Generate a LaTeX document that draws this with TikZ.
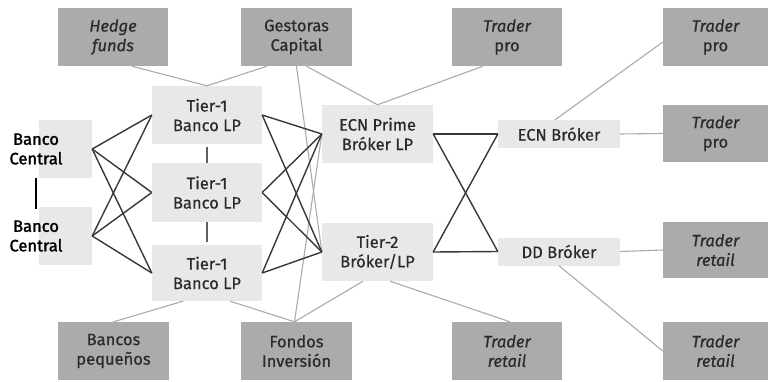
\documentclass[tikz,border=0pt]{standalone}
\usepackage{fontspec}
\setmainfont{Fira Sans}[FakeBold=0.5,AutoFakeBold=0]
\newfontfamily\bcfont{Fira Sans}[FakeBold=1.6]
\usetikzlibrary{calc}
\definecolor{darkbox}{HTML}{ABABAB}
\definecolor{lightbox}{HTML}{E8E8E8}
\definecolor{thinline}{HTML}{ABABAB}
\definecolor{boldline}{HTML}{383838}
\definecolor{txt}{HTML}{2A2A2A}
\tikzset{
  base/.style={inner sep=0pt, align=center, text=txt, font=\fontsize{16.5}{19.5}\selectfont},
  dbox/.style={base, fill=darkbox, minimum width=110pt, minimum height=58pt},
  lbox/.style={base, fill=lightbox, minimum width=110pt, minimum height=58pt},
  thin/.style={draw=thinline, line width=1.1pt},
  bold/.style={draw=boldline, line width=1.4pt, line join=miter},
  bclab/.style={base, text=black, font=\bcfont\fontsize{16.5}{19.5}\selectfont}
}
\begin{document}
\begin{tikzpicture}[x=1pt,y=-1pt]
\path[use as bounding box, fill=white] (0,0) rectangle (769,381);
% top row
\node[dbox] (hedge) at (113,37) {\itshape Hedge\\\itshape funds};
\node[dbox, minimum width=111pt] (gest) at (296.5,37) {Gestoras\\Capital};
\node[dbox] (tpro1) at (507,37) {\itshape Trader\\pro};
\node[dbox, minimum width=105pt] (tpro2) at (715.5,37) {\itshape Trader\\pro};
\node[dbox, minimum width=105pt, minimum height=57pt] (tpro3) at (715.5,133.5) {\itshape Trader\\pro};
\node[dbox, minimum width=105pt, minimum height=56pt] (tret1) at (715.5,250) {\itshape Trader\\\itshape retail};
\node[dbox, minimum width=105pt] (tret2) at (715.5,351) {\itshape Trader\\\itshape retail};
% bottom row
\node[dbox, minimum width=111pt] (bancos) at (113.5,351) {Bancos\\pequeños};
\node[dbox, minimum width=111pt] (fondos) at (296.5,351) {Fondos\\Inversión};
\node[dbox] (tret0) at (507,351) {\itshape Trader\\\itshape retail};
% banco central
\node[lbox, minimum width=53pt] (bc1) at (65.5,149) {};
\node[lbox, minimum width=53pt] (bc2) at (65.5,236) {};
\node[bclab] (bc1lab) at (36,149) {Banco\\Central};
\node[bclab] (bc2lab) at (36,236) {Banco\\Central};
% tier 1
\node[lbox] (t1a) at (207,115) {Tier-1\\Banco LP};
\node[lbox, minimum height=59pt] (t1b) at (207,192.5) {Tier-1\\Banco LP};
\node[lbox, minimum height=56pt] (t1c) at (207,273) {Tier-1\\Banco LP};
% ecn prime / tier 2
\node[lbox, minimum width=111pt] (ecnp) at (377.5,134) {ECN Prime\\Bróker LP};
\node[lbox, minimum width=111pt] (tier2) at (377.5,252) {Tier-2\\Bróker/LP};
% brokers
\node[lbox, minimum width=122pt, minimum height=28pt] (ecnb) at (559,134) {ECN Bróker};
\node[lbox, minimum width=122pt, minimum height=28pt] (ddb) at (559,251.5) {DD Bróker};
% thin grey connectors
\draw[thin] ([xshift=19pt]hedge.south) -- (t1a.north);
\draw[thin] ([xshift=-29.5pt]gest.south) -- (t1a.north);
\draw[thin] (gest.south) -- (tier2.west);
\draw[thin] ([xshift=10pt]gest.south) -- (ecnp.north);
\draw[thin] ([xshift=-24pt]tpro1.south) -- (ecnp.north);
\draw[thin] ([xshift=-2pt]fondos.north) -- (ecnp.west);
\draw[thin] ([xshift=-2pt]fondos.north) -- ([xshift=23pt]t1c.south);
\draw[thin] ([xshift=-2pt]fondos.north) -- ([xshift=-14.5pt]tier2.south);
\draw[thin] (bancos.north) -- ([xshift=-24pt]t1c.south);
\draw[thin] ([xshift=12.5pt]tier2.south) -- ([xshift=3pt]tret0.north);
\draw[thin] ([xshift=-4pt]ecnb.north) -- ([yshift=-5pt]tpro2.west);
\draw[thin] (ecnb.east) -- (tpro3.west);
\draw[thin] (ddb.east) -- (tret1.west);
\draw[thin] (ddb.south) -- (tret2.west);
% bold connectors
\foreach \a in {bc1,bc2}{
  \foreach \b in {t1a,t1b,t1c}{
    \draw[bold] (\a.east) -- (\b.west);
  }
}
\foreach \a in {t1a,t1b,t1c}{
  \foreach \b in {ecnp,tier2}{
    \draw[bold] (\a.east) -- (\b.west);
  }
}
\foreach \a in {ecnp,tier2}{
  \foreach \b in {ecnb,ddb}{
    \draw[bold] (\a.east) -- (\b.west);
  }
}
\draw[bold, draw=boldline!80, shorten <=3pt] (t1a.south) -- (t1b.north);
\draw[bold, draw=boldline!80, shorten >=3pt] (t1b.south) -- (t1c.north);
\draw[draw=black, line width=1.6pt] ([yshift=-13pt]bc1lab.south) -- ([yshift=11pt]bc2lab.north);
\end{tikzpicture}
\end{document}
